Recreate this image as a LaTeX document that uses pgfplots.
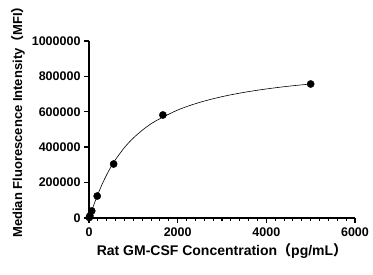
\documentclass[border=0pt]{standalone}
\usepackage{pgfplots}
\pgfplotsset{compat=1.18}
\usepackage{fontspec}
\setmainfont{Liberation Sans}
\newfontfamily\cjk{Noto Sans CJK SC}
\begin{document}
\begin{tikzpicture}
\path[use as bounding box] (-89pt,-57pt) rectangle (284pt,218pt);
\begin{axis}[
  at={(0,0)}, anchor=origin,
  scale only axis, width=266pt, height=177pt,
  xmin=0, xmax=6000, ymin=0, ymax=1000000,
  axis x line*=bottom, axis y line*=left,
  axis line style={line width=1.6pt, black},
  xtick={0,2000,4000,6000}, minor x tick num=9,
  ytick={0,200000,400000,600000,800000,1000000},
  scaled y ticks=false, scaled x ticks=false,
  /pgf/number format/assume math mode=true,
  /pgf/number format/fixed, /pgf/number format/1000 sep={},
  tick align=outside,
  major tick length=5pt, minor tick length=3pt,
  every tick/.style={black, line width=1.4pt},
  minor tick style={line width=1.1pt},
  tick label style={font=\fontsize{12.5}{14}\selectfont\bfseries},
  xticklabel style={yshift=-1pt},
  xlabel={Rat GM-CSF Concentration{\cjk （}pg/mL{\cjk ）}},
  ylabel={Median Fluorescence Intensity{\cjk （}MFI{\cjk ）}},
  xlabel style={font=\fontsize{14}{16}\selectfont\bfseries},
  ylabel style={font=\fontsize{13}{15}\selectfont\bfseries, at={(ticklabel cs:0.56)}},
  clip mode=individual,
]
\addplot[black, line width=0.6pt, smooth, no marks] coordinates {
(0,0) (10,5800) (25,15800) (50,33200) (100,68100) (150,102000) (200,134200)
(300,193100) (400,244900) (500,290500) (600,330700) (800,398100) (1000,451900)
(1250,505300) (1500,547600) (2000,610000) (2500,653500) (3000,685500)
(3500,709900) (4000,729000) (4500,744500) (5000,757100)};
\addplot[only marks, mark=*, mark size=3.6pt, black] coordinates {
(5000,757000) (1666.7,582000) (555.6,305000) (185.2,124000) (61.7,40000) (20.6,12000) (6.9,3000)};
\end{axis}
\end{tikzpicture}
\end{document}
